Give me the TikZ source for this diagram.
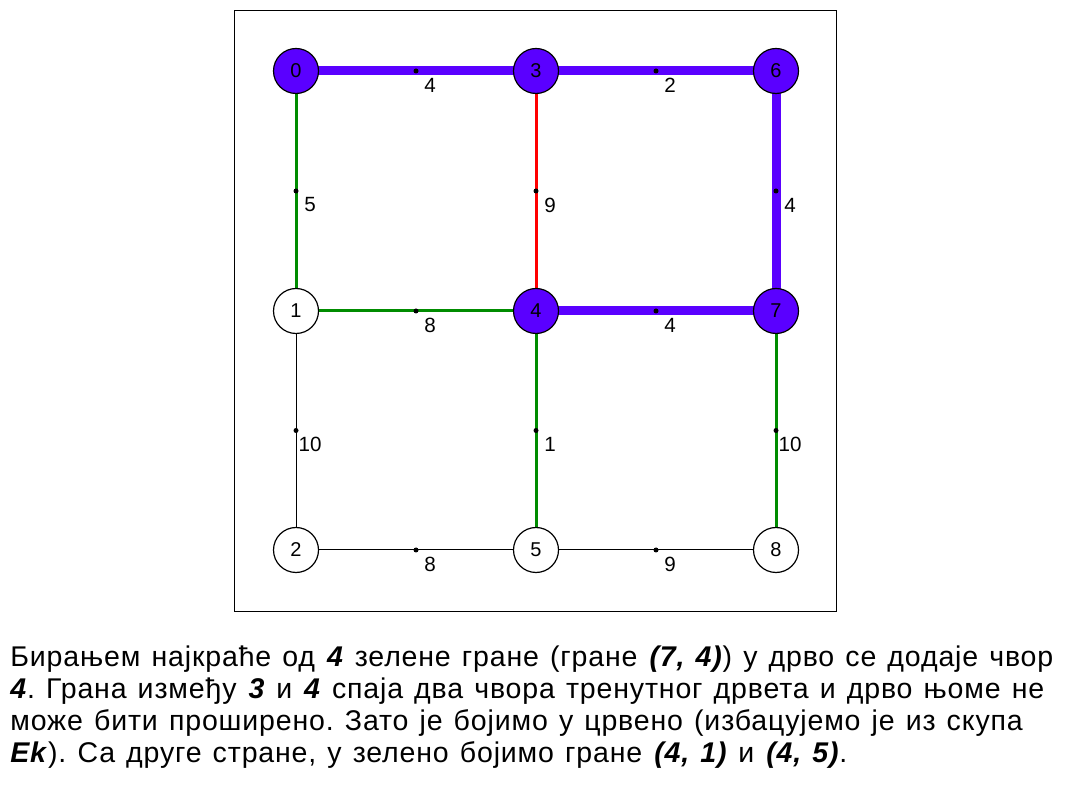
\documentclass[tikz,border=0pt]{standalone}
\usepackage{fontspec}
\setmainfont{Liberation Sans}
\newfontfamily\captionfont[LetterSpace=3]{Liberation Sans}
\definecolor{tpurple}{RGB}{90,0,255}
\definecolor{tgreen}{RGB}{0,140,0}
\definecolor{tred}{RGB}{255,0,0}
\newcommand{\bi}[1]{\textbf{\textit{#1}}}
\newcommand{\capsetup}{\captionfont\fontsize{14.25}{16}\selectfont\frenchspacing\spaceskip=5.55pt\relax}
\tikzset{
  vtx/.style={circle,draw=black,line width=0.6pt,minimum size=22.5pt,inner sep=0pt,font=\fontsize{10}{12}\selectfont},
  invtx/.style={vtx,fill=tpurple},
  outvtx/.style={vtx,fill=white},
  treeedge/.style={tpurple,line width=4.5pt},
  candedge/.style={tgreen,line width=1.5pt},
  rejedge/.style={tred,line width=1.5pt},
  plainedge/.style={black,line width=0.5pt},
  middot/.style={circle,fill=black,inner sep=0pt,minimum size=2.5pt},
  elab/.style={font=\fontsize{10.3}{12}\selectfont,inner sep=0pt,xshift=7pt,yshift=-7pt},
  txt/.style={anchor=base west,inner sep=0pt}
}
\begin{document}
\begin{tikzpicture}[x=0.5pt,y=-0.5pt]
\useasboundingbox (0,0) rectangle (1075,795);
\node[draw=black,line width=0.5pt,minimum width=301pt,minimum height=300.5pt,inner sep=0pt,anchor=north west] (frame) at (234,10) {};
% edges first, vertices on top
\coordinate (c0) at (296,71);
\coordinate (c3) at (536,71);
\coordinate (c6) at (776,71);
\coordinate (c1) at (296,311);
\coordinate (c4) at (536,311);
\coordinate (c7) at (776,311);
\coordinate (c2) at (296,550);
\coordinate (c5) at (536,550);
\coordinate (c8) at (776,550);
\draw[treeedge] (c0) -- (c3);
\draw[treeedge] (c3) -- (c6);
\draw[treeedge] (c6) -- (c7);
\draw[treeedge] (c4) -- (c7);
\draw[candedge] (c0) -- (c1);
\draw[rejedge] (c3) -- (c4);
\draw[candedge] (c1) -- (c4);
\draw[candedge] (c4) -- (c5);
\draw[candedge] (c7) -- (c8);
\draw[plainedge] (c1) -- (c2);
\draw[plainedge] (c2) -- (c5);
\draw[plainedge] (c5) -- (c8);
% vertices
\node[invtx] (n0) at (c0) {0};
\node[invtx] (n3) at (c3) {3};
\node[invtx] (n6) at (c6) {6};
\node[outvtx] (n1) at (c1) {1};
\node[invtx] (n4) at (c4) {4};
\node[invtx] (n7) at (c7) {7};
\node[outvtx] (n2) at (c2) {2};
\node[outvtx] (n5) at (c5) {5};
\node[outvtx] (n8) at (c8) {8};
% midpoint dots and weights
\path (n0) -- node[middot] (d03) {} node[elab] (w03) {4} (n3);
\path (n3) -- node[middot] (d36) {} node[elab] (w36) {2} (n6);
\path (n6) -- node[middot] (d67) {} node[elab] (w67) {4} (n7);
\path (n4) -- node[middot] (d47) {} node[elab] (w47) {4} (n7);
\path (n0) -- node[middot] (d01) {} node[elab] (w01) {5} (n1);
\path (n3) -- node[middot] (d34) {} node[elab] (w34) {9} (n4);
\path (n1) -- node[middot] (d14) {} node[elab] (w14) {8} (n4);
\path (n4) -- node[middot] (d45) {} node[elab] (w45) {1} (n5);
\path (n7) -- node[middot] (d78) {} node[elab] (w78) {10} (n8);
\path (n1) -- node[middot] (d12) {} node[elab] (w12) {10} (n2);
\path (n2) -- node[middot] (d25) {} node[elab] (w25) {8} (n5);
\path (n5) -- node[middot] (d58) {} node[elab] (w58) {9} (n8);
% caption
\node[txt] (t1) at (10,666) {\capsetup Бирањем најкраће од \bi{4} зелене гране (гране \bi{(7, 4)}) у дрво се додаје чвор};
\node[txt] (t2) at (10,698) {\capsetup \bi{4}. Грана између \bi{3} и \bi{4} спаја два чвора тренутног дрвета и дрво њоме не};
\node[txt] (t3) at (10,730) {\capsetup може бити проширено. Зато је бојимо у црвено (избацујемо је из скупа};
\node[txt] (t4) at (10,762) {\capsetup \bi{Ek}). Са друге стране, у зелено бојимо гране \bi{(4, 1)} и \bi{(4, 5)}.};
\end{tikzpicture}
\end{document}
